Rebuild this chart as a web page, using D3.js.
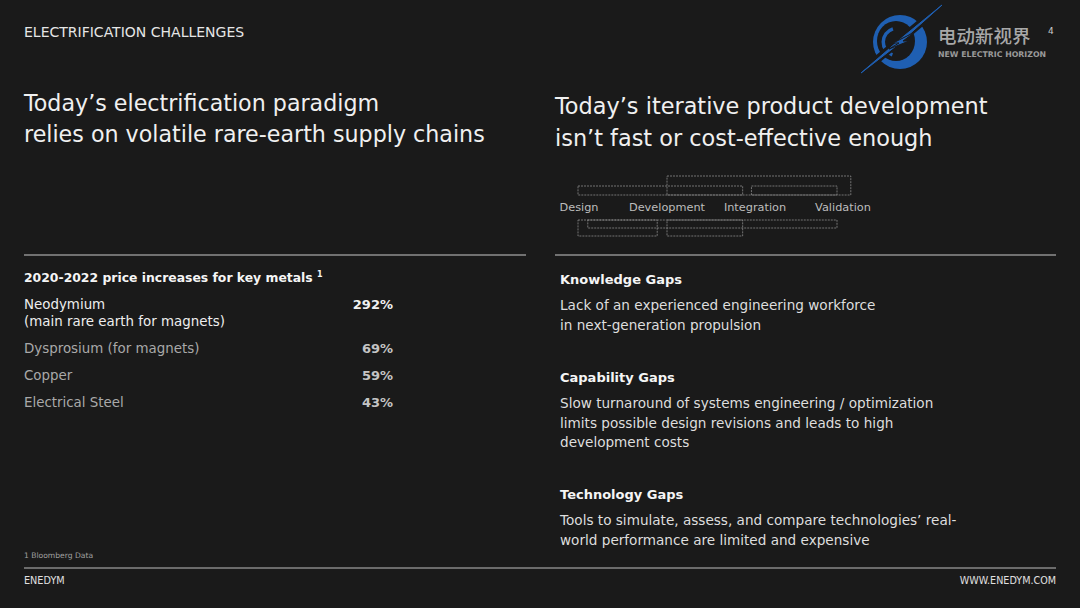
<!DOCTYPE html>
<html>
<head>
<meta charset="utf-8">
<script src="https://cdn.jsdelivr.net/npm/d3@7"></script>
<style>
  html, body { margin: 0; padding: 0; background: #1a1a1a; }
  svg { display: block; }
</style>
</head>
<body>
<div id="slide"></div>
<script>
// slide data
var metals = ["Neodymium", "Dysprosium (for magnets)", "Copper", "Electrical Steel"],
    metalNotes = ["(main rare earth for magnets)", "", "", ""],
    priceIncrease = [292, 69, 59, 43];

var stages = ["Design", "Development", "Integration", "Validation"];
// iteration loops, in stage units (start, end) and lane
var loopStart = [0, 1, 2.07, 0, 0.11, 1],
    loopEnd = [1.97, 3.15, 3, 0.89, 3, 1.97],
    loopLane = ["topShort", "topTall", "topShort", "botTall", "botShort", "botTall"];

var gapTitles = ["Knowledge Gaps", "Capability Gaps", "Technology Gaps"],
    gapText = [
        ["Lack of an experienced engineering workforce", "in next-generation propulsion"],
        ["Slow turnaround of systems engineering / optimization", "limits possible design revisions and leads to high", "development costs"],
        ["Tools to simulate, assess, and compare technologies\u2019 real-", "world performance are limited and expensive"]
    ];

var width = 1080, height = 608,
    font = "'DejaVu Sans', sans-serif",
    blue = "#1f5fb2",
    bg = "#1a1a1a";

var svg = d3.select("#slide").append("svg")
    .attr("width", width)
    .attr("height", height)
    .style("font-family", font);

svg.append("rect")
    .attr("width", width)
    .attr("height", height)
    .attr("fill", bg);

// header
svg.append("text")
    .attr("x", 24).attr("y", 37)
    .attr("font-size", 14)
    .attr("fill", "#e6e6e6")
    .text("ELECTRIFICATION CHALLENGES");

// logo
var logo = svg.append("g").attr("transform", "translate(900,42)");
logo.append("ellipse")
    .attr("rx", 27).attr("ry", 27)
    .attr("fill", blue);
logo.append("ellipse")
    .attr("cx", -4).attr("cy", -1)
    .attr("rx", 19).attr("ry", 20)
    .attr("fill", bg);
logo.append("path")
    .attr("d", d3.arc()({ innerRadius: 12, outerRadius: 15.5, startAngle: -2.8, endAngle: -0.3 }))
    .attr("transform", "translate(-3,0)")
    .attr("fill", blue);
logo.append("path")
    .attr("d", "M42,-37 L-39,31")
    .attr("stroke", bg)
    .attr("stroke-width", 8);
logo.append("path")
    .attr("d", "M42,-37 L4,-6 L-39,31 L-4,4 Z")
    .attr("fill", blue)
    .attr("stroke", blue)
    .attr("stroke-width", 1);
// bolt
logo.append("path")
    .attr("d", "M15,-10 L3,-1 L9,-1 L-11,7 L-1,1 L-7,1 Z")
    .attr("fill", blue)
    .attr("stroke", bg)
    .attr("stroke-width", 1);

svg.append("text")
    .attr("x", 938).attr("y", 43)
    .attr("font-family", "'Noto Sans CJK SC', sans-serif")
    .attr("font-size", 18.5)
    .attr("font-weight", 500)
    .attr("fill", "#a8a8a8")
    .text("电动新视界");
svg.append("text")
    .attr("x", 1048).attr("y", 34)
    .attr("font-size", 9)
    .attr("fill", "#cccccc")
    .text("4");
svg.append("text")
    .attr("x", 938).attr("y", 57)
    .attr("font-size", 7.8)
    .attr("font-weight", "bold")
    .attr("fill", "#9a9a9a")
    .text("NEW ELECTRIC HORIZON");

// titles
function multiline(x, y, lines, size, lineHeight, fill, weight) {
    var t = svg.append("text")
        .attr("x", x).attr("y", y)
        .attr("font-size", size)
        .attr("font-weight", weight || "normal")
        .attr("fill", fill);
    t.selectAll("tspan")
        .data(lines)
        .enter()
        .append("tspan")
            .attr("x", x)
            .attr("dy", function(d, i) { return i === 0 ? 0 : lineHeight; })
            .text(function(d) { return d; });
    return t;
}

multiline(24, 111, ["Today\u2019s electrification paradigm", "relies on volatile rare-earth supply chains"], 22.2, 31, "#f0f0f0");
multiline(555, 114, ["Today\u2019s iterative product development", "isn\u2019t fast or cost-effective enough"], 22.4, 32, "#f0f0f0");

// process diagram
var stageX = d3.scaleLinear()
    .domain([0, 1, 2, 3])
    .range([578, 667, 745, 837]);

var lanes = {
    topTall: [176, 195],
    topShort: [186, 195],
    botShort: [220, 228],
    botTall: [220, 236]
};

var loops = loopStart.map(function(s, i) {
    return { start: s, end: loopEnd[i], lane: loopLane[i] };
});

svg.append("g").selectAll("rect")
    .data(loops)
    .enter()
    .append("rect")
        .attr("x", function(d) { return stageX(d.start); })
        .attr("y", function(d) { return lanes[d.lane][0]; })
        .attr("width", function(d) { return stageX(d.end) - stageX(d.start); })
        .attr("height", function(d) { return lanes[d.lane][1] - lanes[d.lane][0]; })
        .attr("fill", "none")
        .attr("stroke", "#8a8a8a")
        .attr("stroke-width", 0.8)
        .attr("stroke-dasharray", "2,1");

var labelX = d3.scalePoint()
    .domain(stages)
    .range([579, 843]);

svg.append("g").selectAll("text")
    .data(stages)
    .enter()
    .append("text")
        .attr("x", function(d) { return labelX(d); })
        .attr("y", 211)
        .attr("text-anchor", "middle")
        .attr("font-size", 11.3)
        .attr("fill", "#bdbdbd")
        .text(function(d) { return d; });

// dividers
svg.append("line")
    .attr("x1", 24).attr("x2", 526).attr("y1", 255).attr("y2", 255)
    .attr("stroke", "#8f8f8f").attr("stroke-width", 1.3);
svg.append("line")
    .attr("x1", 555).attr("x2", 1056).attr("y1", 255).attr("y2", 255)
    .attr("stroke", "#8f8f8f").attr("stroke-width", 1.3);

// metals table
var tableTitle = svg.append("text")
    .attr("x", 24).attr("y", 282)
    .attr("font-size", 12.4)
    .attr("font-weight", "bold")
    .attr("fill", "#f5f5f5")
    .text("2020-2022 price increases for key metals ");
tableTitle.append("tspan")
    .attr("font-size", 8)
    .attr("dy", -5)
    .text("1");

// first row has a second line, others sit on a 27px grid
var rowBaseline = [309, 353, 380, 407];

var rows = svg.append("g").selectAll("g")
    .data(metals)
    .enter()
    .append("g")
        .attr("transform", function(d, i) { return "translate(0," + rowBaseline[i] + ")"; });

rows.append("text")
    .attr("x", 24)
    .attr("font-size", 13.4)
    .attr("fill", function(d, i) { return i === 0 ? "#eeeeee" : "#a9a9a9"; })
    .text(function(d) { return d; });
rows.append("text")
    .attr("x", 24).attr("y", 17)
    .attr("font-size", 13.4)
    .attr("fill", "#eeeeee")
    .text(function(d, i) { return metalNotes[i]; });
rows.append("text")
    .attr("x", 393)
    .attr("text-anchor", "end")
    .attr("font-size", 13)
    .attr("font-weight", "bold")
    .attr("fill", function(d, i) { return i === 0 ? "#f0f0f0" : "#c4c4c4"; })
    .text(function(d, i) { return priceIncrease[i] + "%"; });

// gaps
var gapTop = [284, 382, 499];
gapTitles.forEach(function(title, i) {
    svg.append("text")
        .attr("x", 560).attr("y", gapTop[i])
        .attr("font-size", 13)
        .attr("font-weight", "bold")
        .attr("fill", "#f5f5f5")
        .text(title);
    multiline(560, gapTop[i] + 26, gapText[i], 13.6, 19.5, "#dedede");
});

// footnote and footer
svg.append("text")
    .attr("x", 24).attr("y", 558)
    .attr("font-size", 7.6)
    .attr("fill", "#a0a0a0")
    .text("1 Bloomberg Data");
svg.append("line")
    .attr("x1", 24).attr("x2", 1056).attr("y1", 568).attr("y2", 568)
    .attr("stroke", "#bdbdbd").attr("stroke-width", 1);
svg.append("text")
    .attr("x", 24).attr("y", 584)
    .attr("font-size", 9.7)
    .attr("fill", "#e0e0e0")
    .text("ENEDYM");
svg.append("text")
    .attr("x", 1056).attr("y", 584)
    .attr("text-anchor", "end")
    .attr("font-size", 9.6)
    .attr("fill", "#e0e0e0")
    .text("WWW.ENEDYM.COM");
</script>
</body>
</html>
